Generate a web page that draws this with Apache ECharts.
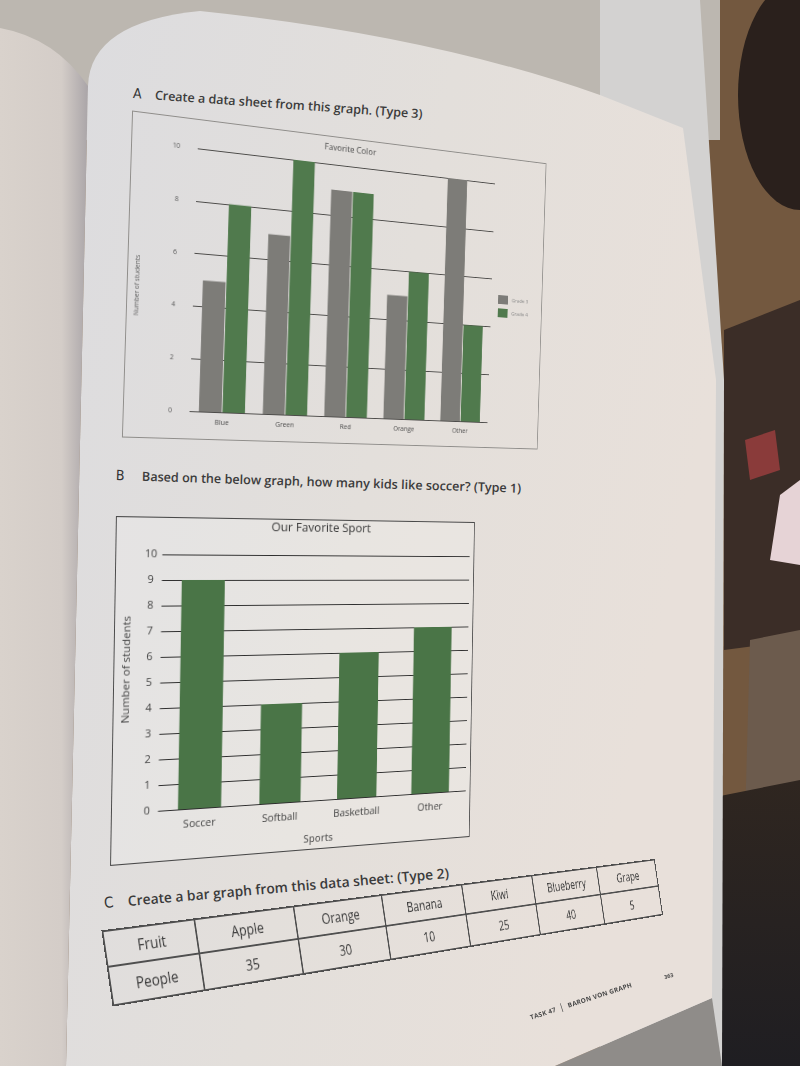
<!DOCTYPE html>
<html>
<head>
<meta charset="utf-8">
<script src="https://cdn.jsdelivr.net/npm/echarts/dist/echarts.min.js"></script>
<style>
  html, body { margin: 0; padding: 0; width: 800px; height: 1066px; overflow: hidden; background: #72573f; font-family: "Open Sans", "Noto Sans", sans-serif; }
  .abs { position: absolute; }
  #bg { position: absolute; left: 0; top: 0; }
  .hdr { position: absolute; white-space: nowrap; color: #3b3b3b; font-weight: 600; transform-origin: 0 50%; }
  .hdr .sec { display: inline-block; font-weight: 400; font-family: "DejaVu Sans Condensed", "Liberation Sans Narrow", sans-serif; color: #333; }
  #frameA { left: 127px; top: 110px; width: 495px; height: 328px; box-sizing: border-box; border: 1.2px solid #8f8d8a;
            transform-origin: 0 50%; transform: skewX(2.7deg) rotate(4.48deg) perspective(1000px) rotateY(16.77deg); }
  #frameB { left: 113px; top: 516px; width: 414px; height: 350px; box-sizing: border-box; border: 1.4px solid #4a4a4a; background: rgba(255,255,255,0.18);
            transform-origin: 0 50%; transform: skewX(-2.8deg) rotate(-1.84deg) perspective(1000px) rotateY(15.59deg); }
  #chartA { position: absolute; left: -1px; top: -1px; width: 495px; height: 328px; }
  #chartB { position: absolute; left: -1px; top: -1px; width: 414px; height: 350px; }
  #tbl { left: 107px; top: 929.5px; width: 830px; transform-origin: 0 50%; transform: rotate(-8.4deg) perspective(1000px) rotateY(25.1deg); }
  #tbl table { border-collapse: collapse; table-layout: fixed; font-size: 15.5px; color: #3a3a3a; }
  #tbl td { border: 2px solid #4f4f4f; text-align: center; padding: 0; overflow: visible; white-space: nowrap; }
  #foot { left: 530px; top: 1010px; font-size: 6.5px; font-weight: 700; color: #4a4a4a; transform-origin: 0 50%; transform: rotate(-18deg); white-space: nowrap; letter-spacing: 0.2px; }
  #pgno { left: 664px; top: 972px; font-size: 5.5px; font-weight: 700; color: #4a4a4a; transform: rotate(-15deg); }
</style>
</head>
<body>
<svg id="bg" width="800" height="1066">
  <defs>
    <linearGradient id="pg" x1="0" y1="0" x2="1" y2="0.35">
      <stop offset="0" stop-color="#dcdcdf"/>
      <stop offset="0.55" stop-color="#e3dfdb"/>
      <stop offset="1" stop-color="#e8e0da"/>
    </linearGradient>
    <linearGradient id="lp" x1="0" y1="0" x2="1" y2="0">
      <stop offset="0" stop-color="#d9d2cc"/>
      <stop offset="0.7" stop-color="#d4cdc8"/>
      <stop offset="1" stop-color="#aaa5a8"/>
    </linearGradient>
    <linearGradient id="dk" x1="0" y1="0" x2="0" y2="1">
      <stop offset="0" stop-color="#2f2620"/>
      <stop offset="1" stop-color="#1f1e22"/>
    </linearGradient>
  </defs>
  <rect width="800" height="1066" fill="#73583f"/>
  <rect x="0" y="0" width="720" height="140" fill="#bcb7b0"/>
  <ellipse cx="800" cy="95" rx="62" ry="115" fill="#2a201c"/>
  <polygon points="724,330 800,300 800,640 724,650" fill="#3b2d27"/>
  <polygon points="750,640 800,630 800,800 745,820" fill="#6c5b4d"/>
  <polygon points="780,495 800,480 800,565 770,560" fill="#e6d3d6"/>
  <polygon points="745,440 775,430 780,470 750,480" fill="#8a3b3a"/>
  <polygon points="700,800 800,780 800,1066 690,1066" fill="url(#dk)"/>
  <polygon points="600,0 700,0 724,380 722,1066 600,1066" fill="#d3d2d1"/>
  <polygon points="555,1066 712,998 722,1066" fill="#8f8c89"/>
  <path d="M0,28 Q55,38 88,86 L66,1066 L0,1066 Z" fill="url(#lp)"/>
  <path d="M88,86 Q90,22 200,11 Q430,35 600,95 L683,128 L716,380 L712,998 L555,1066 L66,1066 Z" fill="url(#pg)"/>
</svg>

<div class="hdr" style="left:133px; top:84px; font-size:12.5px; line-height:18px; transform: rotate(4deg);"><span class="sec" style="width:22px; font-size:14px;">A</span>Create a data sheet from this graph. (Type 3)</div>
<div class="hdr" style="left:116px; top:466px; font-size:12.6px; line-height:18px; transform: rotate(1.8deg);"><span class="sec" style="width:26px; font-size:14px;">B</span>Based on the below graph, how many kids like soccer? (Type 1)</div>
<div class="hdr" style="left:104px; top:894px; font-size:13.8px; line-height:18px; transform: rotate(-5deg);"><span class="sec" style="width:24px; font-size:15px;">C</span>Create a bar graph from this data sheet: (Type 2)</div>

<div id="frameA" class="abs"><div id="chartA"></div></div>
<div id="frameB" class="abs"><div id="chartB"></div></div>
<div id="tbl" class="abs"></div>
<div id="foot" class="abs">TASK 47 &nbsp;<span style="font-size:9px;font-weight:400;">|</span>&nbsp; BARON VON GRAPH</div>
<div id="pgno" class="abs">363</div>

<script>
// ---- Chart A: Favorite Color ----
const colorCategories = ['Blue', 'Green', 'Red', 'Orange', 'Other'];
const grade3Values = [5, 7, 9, 5, 10];
const grade4Values = [8, 10, 9, 6, 4];
const colorSeriesNames = ['Grade 3', 'Grade 4'];

// ---- Chart B: Our Favorite Sport ----
const sportCategories = ['Soccer', 'Softball', 'Basketball', 'Other'];
const sportValues = [9, 4, 6, 7];

// ---- Data sheet C ----
const fruitHeader = 'Fruit';
const peopleHeader = 'People';
const fruitNames = ['Apple', 'Orange', 'Banana', 'Kiwi', 'Blueberry', 'Grape'];
const fruitPeople = [35, 30, 10, 25, 40, 5];

const FONT = '"Open Sans", "Noto Sans", sans-serif';

const chartA = echarts.init(document.getElementById('chartA'), null, { renderer: 'canvas' });
chartA.setOption({
  animation: false,
  textStyle: { fontFamily: FONT },
  title: {
    text: 'Favorite Color', left: 214, top: 7, padding: 0,
    textStyle: { fontSize: 9.5, fontWeight: 'normal', color: '#4a4a4a', fontFamily: FONT }
  },
  legend: {
    data: colorSeriesNames, orient: 'vertical', left: 436, top: 155, padding: 0,
    icon: 'rect', itemWidth: 13, itemHeight: 10, itemGap: 5, selectedMode: false,
    textStyle: { fontSize: 6, color: '#888', fontFamily: FONT }
  },
  grid: { left: 57, right: 68, top: 30, bottom: 29 },
  xAxis: {
    type: 'category', data: colorCategories,
    axisLine: { show: false }, axisTick: { show: false },
    axisLabel: { fontSize: 7.5, color: '#4a4a4a', margin: 7, fontFamily: FONT }
  },
  yAxis: {
    type: 'value', min: 0, max: 10, interval: 2,
    name: 'Number of students', nameLocation: 'middle', nameGap: 56,
    nameTextStyle: { fontSize: 6.5, color: '#5e5e5e', fontFamily: FONT, padding: [0, 20, 0, 0] },
    axisLabel: { fontSize: 7, color: '#555', margin: 19, fontFamily: FONT },
    axisLine: { show: false }, axisTick: { show: false },
    splitLine: { lineStyle: { color: '#4c4b49', width: 1.1 } }
  },
  series: [
    { name: colorSeriesNames[0], type: 'bar', data: grade3Values, barWidth: 25, barGap: '4%', itemStyle: { color: '#7d7c78' } },
    { name: colorSeriesNames[1], type: 'bar', data: grade4Values, barWidth: 25, barGap: '4%', itemStyle: { color: '#507a4d' } }
  ]
});

const chartB = echarts.init(document.getElementById('chartB'), null, { renderer: 'canvas' });
chartB.setOption({
  animation: false,
  textStyle: { fontFamily: FONT },
  title: {
    text: 'Our Favorite Sport', left: 169, top: 2, padding: 0,
    textStyle: { fontSize: 13.5, fontWeight: 'normal', color: '#3a3a3a', fontFamily: FONT }
  },
  grid: { left: 33, right: 6, top: 38, bottom: 48 },
  xAxis: {
    type: 'category', data: sportCategories,
    name: 'Sports', nameLocation: 'middle', nameGap: 35,
    nameTextStyle: { fontSize: 11.5, color: '#444', fontFamily: FONT },
    axisLine: { show: false }, axisTick: { show: false },
    axisLabel: { fontSize: 11.5, color: '#444', margin: 10, fontFamily: FONT }
  },
  yAxis: {
    type: 'value', min: 0, max: 10, interval: 1,
    name: 'Number of students', nameLocation: 'middle', nameGap: 19,
    nameTextStyle: { fontSize: 11.5, color: '#444', fontFamily: FONT, padding: [0, 0, 0, 28] },
    axisLabel: { fontSize: 11.5, color: '#444', margin: 12, align: 'center', fontFamily: FONT },
    axisLine: { show: false }, axisTick: { show: false },
    splitLine: { lineStyle: { color: '#2e2e2e', width: 1.2 } }
  },
  series: [
    { name: 'Students', type: 'bar', data: sportValues, barWidth: 47, itemStyle: { color: '#4a7547' } }
  ]
});

// Data sheet table built from the arrays
(function buildTable() {
  const colW = [105, 125, 122, 122, 116, 116, 112];
  const t = document.createElement('table');
  t.style.width = colW.reduce((a, b) => a + b, 0) + 'px';
  const r1 = document.createElement('tr');
  const r2 = document.createElement('tr');
  const row1 = [fruitHeader].concat(fruitNames);
  const row2 = [peopleHeader].concat(fruitPeople.map(String));
  row1.forEach((txt, i) => {
    const td = document.createElement('td');
    td.textContent = txt; td.style.width = colW[i] + 'px'; td.style.height = '34px';
    r1.appendChild(td);
  });
  row2.forEach((txt, i) => {
    const td = document.createElement('td');
    td.textContent = txt; td.style.width = colW[i] + 'px'; td.style.height = '37px';
    r2.appendChild(td);
  });
  t.appendChild(r1); t.appendChild(r2);
  document.getElementById('tbl').appendChild(t);
})();
</script>
</body>
</html>
